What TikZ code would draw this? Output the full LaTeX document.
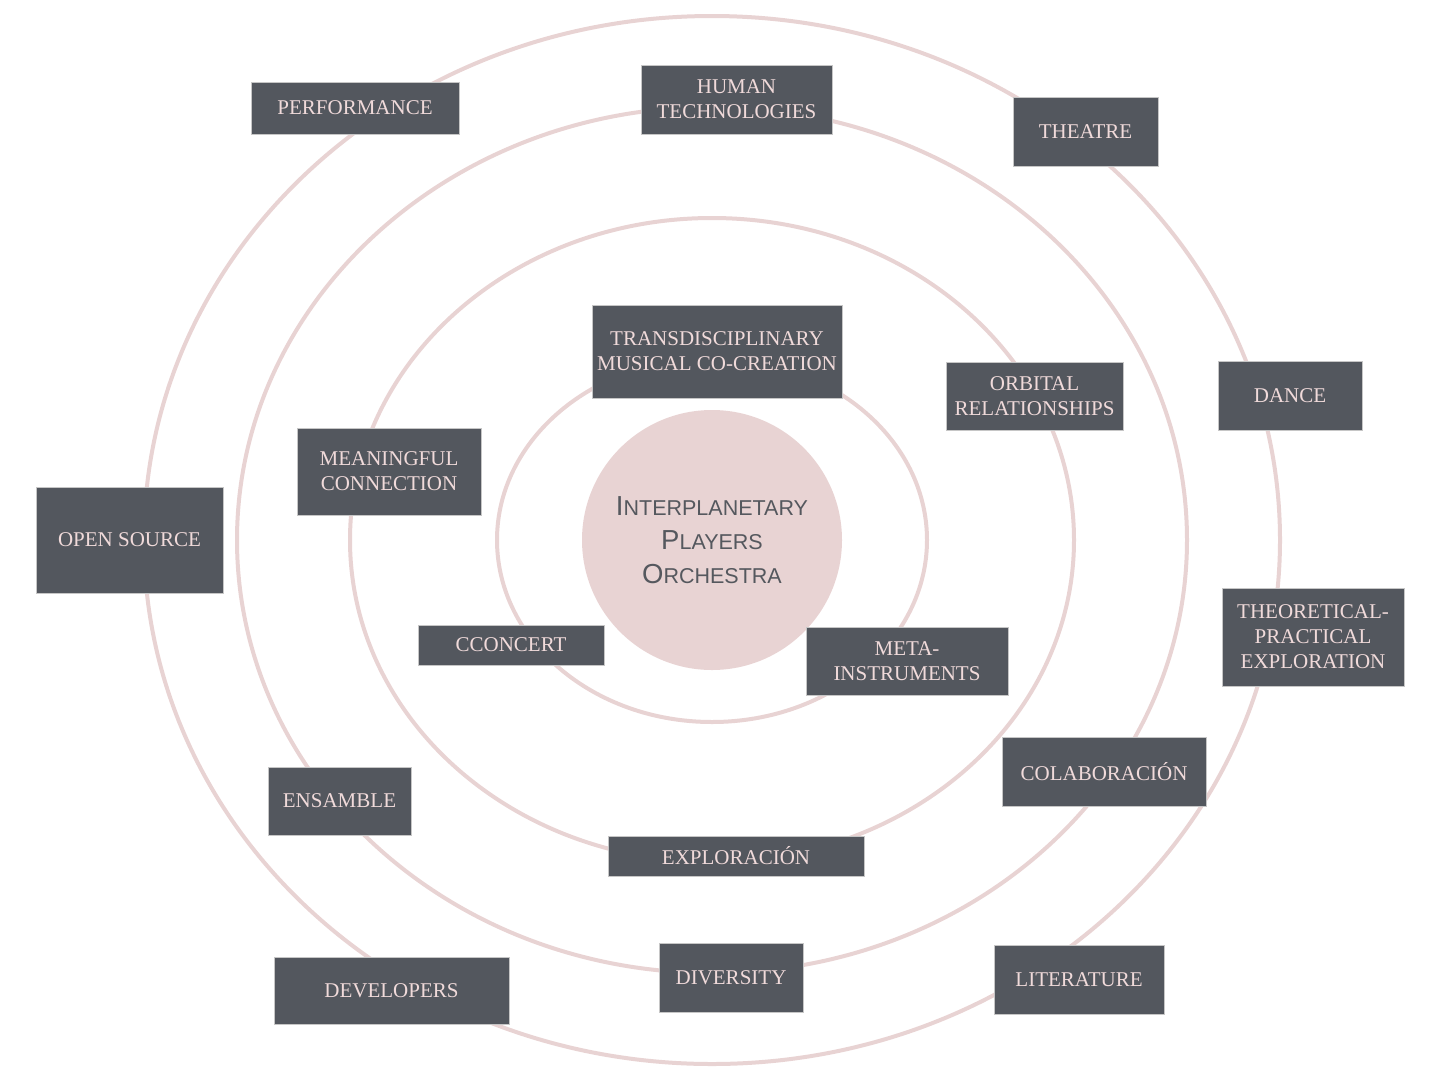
\documentclass[tikz,border=0pt]{standalone}
\usepackage{fontspec}
\setmainfont{Liberation Serif}
\newfontfamily\hubfont{Liberation Sans}
\usepackage{tikz}

\definecolor{ring}{HTML}{E8D3D3}
\definecolor{slate}{HTML}{53575E}
\definecolor{blush}{HTML}{F0DADA}
\definecolor{hubtext}{HTML}{55585E}

\tikzset{
  orbit/.style={draw=ring, line width=4pt},
  topic/.style={draw=gray!45, line width=0.6pt, fill=slate, text=blush, align=center,
    inner sep=0pt, font=\fontsize{21}{25}\selectfont},
  hub/.style={circle, fill=ring, text=hubtext, align=center, inner sep=0pt,
    minimum size=260pt, font=\hubfont\fontsize{27.5}{34}\selectfont}
}

\newcommand\hubsc[2]{#1{\fontsize{21.5}{34}\selectfont #2}}

\begin{document}
\begin{tikzpicture}[x=1pt, y=-1pt]

  \useasboundingbox (0,0) rectangle (1446,1080);

  % rings
  \draw[orbit] (712,540) ellipse [x radius=215, y radius=182];
  \draw[orbit] (712,540) ellipse [x radius=362, y radius=322];
  \draw[orbit] (712,540) ellipse [x radius=475, y radius=433];
  \draw[orbit] (712,540) ellipse [x radius=568, y radius=524];

  \node[hub] (ipo) at (712,540) {\hubsc{I}{NTERPLANETARY}\\ \hubsc{P}{LAYERS}\\ \hubsc{O}{RCHESTRA}};

  % inner ring
  \node[topic, minimum width=250, minimum height=93] (transd) at (717,351.5) {TRANSDISCIPLINARY\\MUSICAL CO-CREATION};
  \node[topic, minimum width=186, minimum height=40] (cconcert) at (511,645) {CCONCERT};
  \node[topic, minimum width=202, minimum height=68] (meta) at (907,661) {META-\\INSTRUMENTS};

  % second ring
  \node[topic, minimum width=177, minimum height=68] (orbital) at (1034.5,396) {ORBITAL\\RELATIONSHIPS};
  \node[topic, minimum width=184, minimum height=87] (meaning) at (389,471.5) {MEANINGFUL\\CONNECTION};
  \node[topic, minimum width=256, minimum height=40] (explor) at (736,856) {EXPLORACIÓN};

  % third ring
  \node[topic, minimum width=191, minimum height=69] (human) at (736.5,99.5) {HUMAN\\TECHNOLOGIES};
  \node[topic, minimum width=204, minimum height=69] (colab) at (1104,771.5) {COLABORACIÓN};
  \node[topic, minimum width=143, minimum height=68] (ensamble) at (339.5,801) {ENSAMBLE};
  \node[topic, minimum width=144, minimum height=69] (diversity) at (731,977.5) {DIVERSITY};

  % outer ring
  \node[topic, minimum width=208, minimum height=52] (perform) at (355,108) {PERFORMANCE};
  \node[topic, minimum width=145, minimum height=69] (theatre) at (1085.5,131.5) {THEATRE};
  \node[topic, minimum width=144, minimum height=69] (dance) at (1290,395.5) {DANCE};
  \node[topic, minimum width=187, minimum height=106] (opensrc) at (129.5,540) {OPEN SOURCE};
  \node[topic, minimum width=182, minimum height=98] (theory) at (1313,637) {THEORETICAL-\\PRACTICAL\\EXPLORATION};
  \node[topic, minimum width=170, minimum height=69] (lit) at (1079,979.5) {LITERATURE};
  \node[topic, minimum width=235, minimum height=67] (devs) at (391.5,990.5) {DEVELOPERS};

\end{tikzpicture}
\end{document}
